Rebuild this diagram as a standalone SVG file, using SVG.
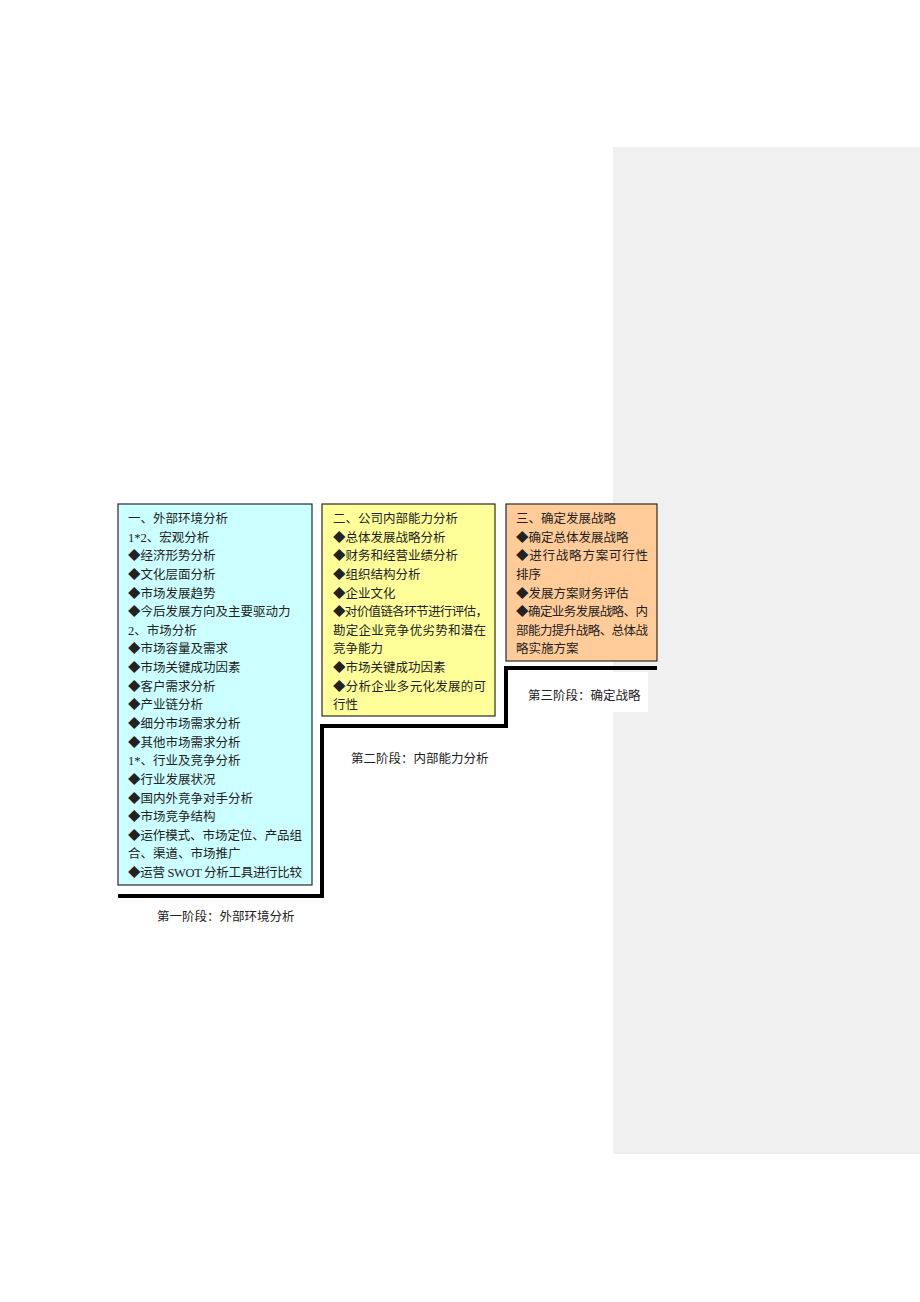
<svg xmlns="http://www.w3.org/2000/svg" width="920" height="1302" viewBox="0 0 920 1302">
<style>
.t{font-family:"Liberation Serif","Noto Sans CJK SC",serif;font-size:12.5px;fill:#222}
.box{stroke:#2a2a2a;stroke-width:1.2}
.stair{fill:none;stroke:#000;stroke-width:4;stroke-linejoin:miter}
</style>
<rect width="920" height="1302" fill="#fff"/>
<rect id="panel" x="613" y="147" width="307" height="1007" fill="#f0f0f0"/>
<g id="connectors">
<path class="stair" d="M118,896 H322 V726 H506 V668 H657"/>
</g>
<g id="stage1">
<rect class="box" x="118" y="504" width="194" height="381" fill="#ccffff"/>
<text class="t" x="128" y="523">一、外部环境分析</text>
<text class="t" x="128" y="541.6">1*2、宏观分析</text>
<text class="t" x="128" y="560.3">◆经济形势分析</text>
<text class="t" x="128" y="578.9">◆文化层面分析</text>
<text class="t" x="128" y="597.5">◆市场发展趋势</text>
<text class="t" x="128" y="616.2">◆今后发展方向及主要驱动力</text>
<text class="t" x="128" y="634.8">2、市场分析</text>
<text class="t" x="128" y="653.4">◆市场容量及需求</text>
<text class="t" x="128" y="672">◆市场关键成功因素</text>
<text class="t" x="128" y="690.7">◆客户需求分析</text>
<text class="t" x="128" y="709.3">◆产业链分析</text>
<text class="t" x="128" y="727.9">◆细分市场需求分析</text>
<text class="t" x="128" y="746.6">◆其他市场需求分析</text>
<text class="t" x="128" y="765.2">1*、行业及竞争分析</text>
<text class="t" x="128" y="783.8">◆行业发展状况</text>
<text class="t" x="128" y="802.5">◆国内外竞争对手分析</text>
<text class="t" x="128" y="821.1">◆市场竞争结构</text>
<text class="t" x="128" y="839.7" textLength="174" lengthAdjust="spacing">◆运作模式、市场定位、产品组</text>
<text class="t" x="128" y="858.3">合、渠道、市场推广</text>
<text class="t" x="128" y="877" textLength="174" lengthAdjust="spacing">◆运营 SWOT 分析工具进行比较</text>
</g>
<g id="stage2">
<rect class="box" x="322" y="504" width="173" height="212" fill="#ffff99"/>
<text class="t" x="333" y="523">二、公司内部能力分析</text>
<text class="t" x="333" y="541.6">◆总体发展战略分析</text>
<text class="t" x="333" y="560.3">◆财务和经营业绩分析</text>
<text class="t" x="333" y="578.9">◆组织结构分析</text>
<text class="t" x="333" y="597.5">◆企业文化</text>
<text class="t" x="333" y="616.2" textLength="155" lengthAdjust="spacing">◆对价值链各环节进行评估，</text>
<text class="t" x="333" y="634.8" textLength="153" lengthAdjust="spacing">勘定企业竞争优劣势和潜在</text>
<text class="t" x="333" y="653.4">竞争能力</text>
<text class="t" x="333" y="672">◆市场关键成功因素</text>
<text class="t" x="333" y="690.7" textLength="153" lengthAdjust="spacing">◆分析企业多元化发展的可</text>
<text class="t" x="333" y="709.3">行性</text>
</g>
<g id="stage3">
<rect class="box" x="506" y="504" width="151" height="157" fill="#ffcc99"/>
<text class="t" x="516" y="523">三、确定发展战略</text>
<text class="t" x="516" y="541.6">◆确定总体发展战略</text>
<text class="t" x="516" y="560.3" textLength="132" lengthAdjust="spacing">◆进行战略方案可行性</text>
<text class="t" x="516" y="578.9">排序</text>
<text class="t" x="516" y="597.5">◆发展方案财务评估</text>
<text class="t" x="516" y="616.2" textLength="132" lengthAdjust="spacing">◆确定业务发展战略、内</text>
<text class="t" x="516" y="634.8" textLength="132" lengthAdjust="spacing">部能力提升战略、总体战</text>
<text class="t" x="516" y="653.4">略实施方案</text>
</g>
<g id="label1">
<text class="t" x="157" y="921">第一阶段：外部环境分析</text>
</g>
<g id="label2">
<text class="t" x="351" y="763">第二阶段：内部能力分析</text>
</g>
<g id="label3">
<rect x="516" y="672" width="132" height="40" fill="#fff"/>
<text class="t" x="528" y="700">第三阶段：确定战略</text>
</g>
</svg>
